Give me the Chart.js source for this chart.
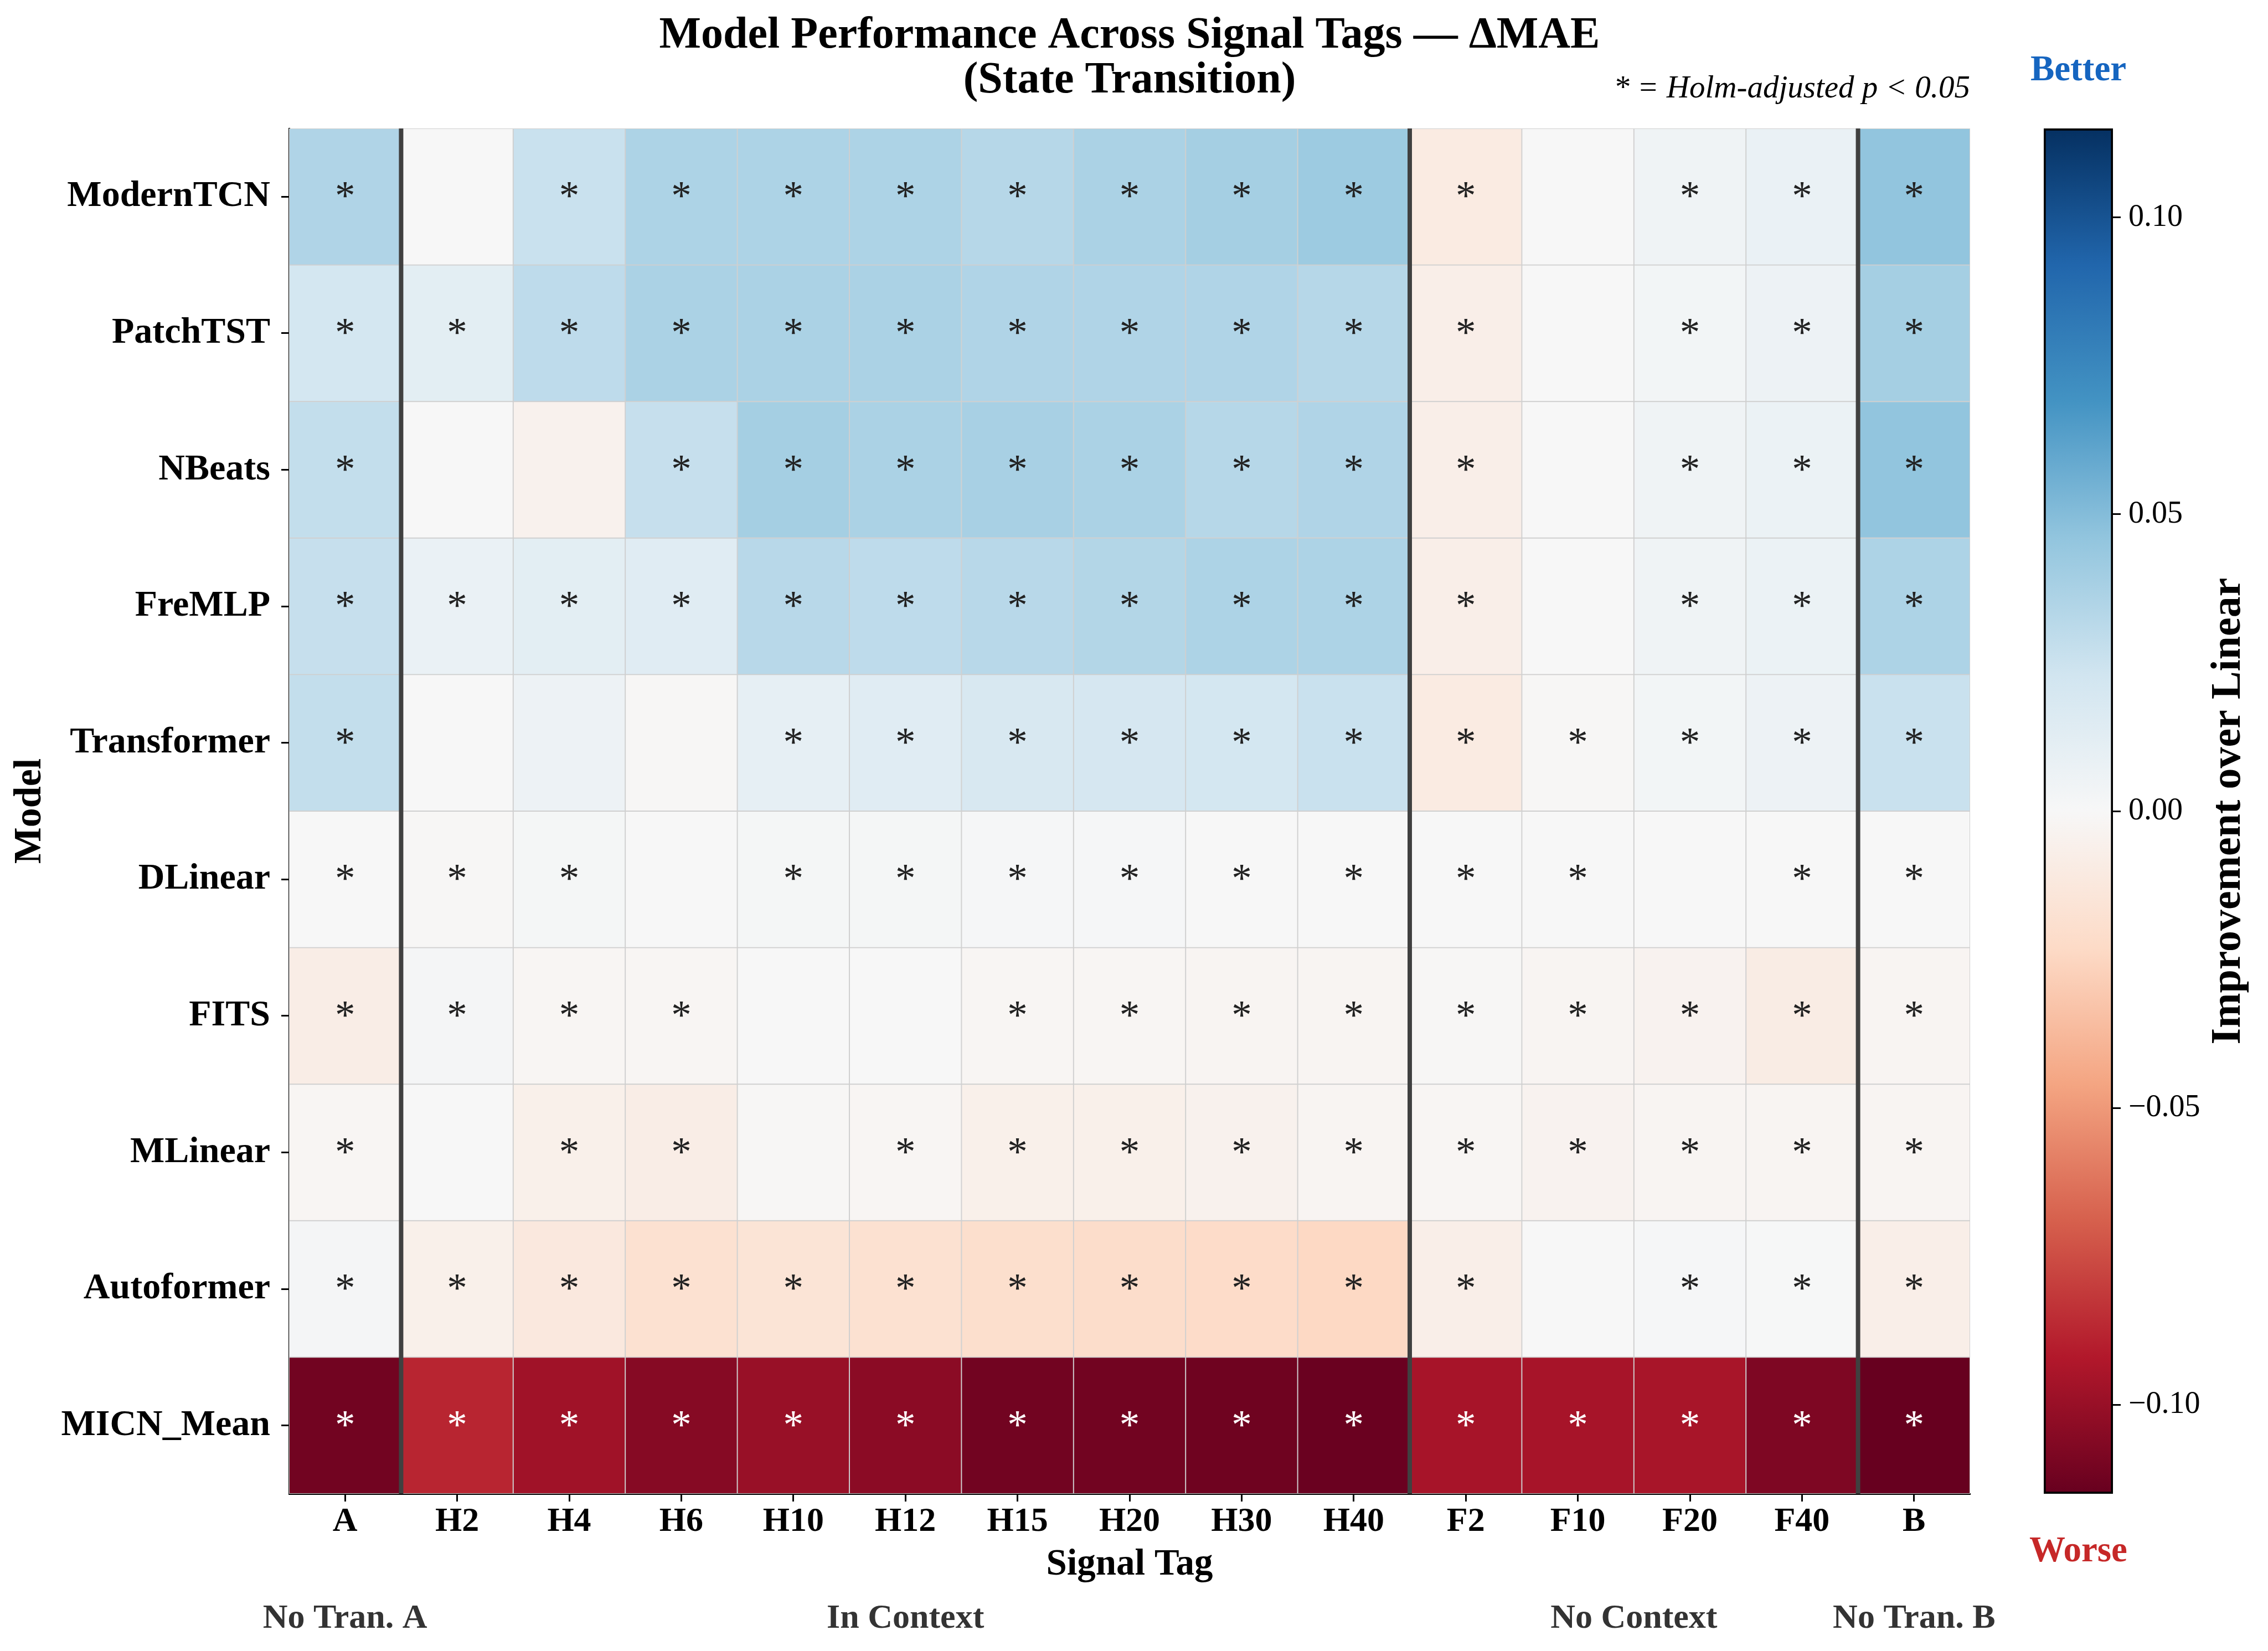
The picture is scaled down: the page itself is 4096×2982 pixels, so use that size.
<!DOCTYPE html>
<html>
<head>
<meta charset="utf-8">
<script src="https://cdn.jsdelivr.net/npm/chart.js@4.4.0/dist/chart.umd.min.js"></script>
<style>
  html, body { margin: 0; padding: 0; background: #fff; }
  #wrap { position: relative; width: 4096px; height: 2982px; }
  #heat { position: absolute; left: 0; top: 0; }
  #cbar { position: absolute; left: 3560px; top: 0; }
</style>
</head>
<body>
<div id="wrap">
  <canvas id="heat" width="4096" height="2982" style="width:4096px;height:2982px"></canvas>
  <canvas id="cbar" width="536" height="2982" style="width:536px;height:2982px"></canvas>
</div>
<script>
// signal tags (columns) and models (rows)
var tags = ['A', 'H2', 'H4', 'H6', 'H10', 'H12', 'H15', 'H20', 'H30', 'H40', 'F2', 'F10', 'F20', 'F40', 'B'];
var models = ['ModernTCN', 'PatchTST', 'NBeats', 'FreMLP', 'Transformer', 'DLinear', 'FITS', 'MLinear', 'Autoformer', 'MICN_Mean'];

// column groups, by first and last tag index
var groupNames = ['No Tran. A', 'In Context', 'No Context', 'No Tran. B'];
var groupSpans = [[0, 0], [1, 9], [10, 13], [14, 14]];

// delta MAE vs Linear, one array per model
var modernTCN   = [0.035, 0.000, 0.026, 0.036, 0.036, 0.036, 0.033, 0.037, 0.039, 0.042, -0.010, 0.000, 0.005, 0.008, 0.046];
var patchTST    = [0.021, 0.012, 0.030, 0.037, 0.037, 0.037, 0.035, 0.035, 0.035, 0.033, -0.007, 0.000, 0.003, 0.006, 0.039];
var nBeats      = [0.028, 0.000, -0.005, 0.027, 0.039, 0.037, 0.038, 0.037, 0.033, 0.035, -0.007, 0.000, 0.005, 0.007, 0.046];
var freMLP      = [0.027, 0.008, 0.012, 0.014, 0.032, 0.030, 0.032, 0.034, 0.036, 0.036, -0.007, 0.000, 0.005, 0.007, 0.036];
var transformer = [0.028, 0.000, 0.006, -0.001, 0.010, 0.014, 0.019, 0.020, 0.021, 0.026, -0.010, -0.001, 0.003, 0.006, 0.026];
var dLinear     = [0.0003, -0.0008, 0.0018, 0.000, 0.0018, 0.0018, 0.0012, 0.001, 0.0003, 0.0003, 0.0003, 0.0003, 0.000, 0.0003, 0.0003];
var fits        = [-0.008, 0.002, -0.002, -0.002, 0.000, 0.000, -0.002, -0.002, -0.0025, -0.0025, -0.001, -0.0025, -0.004, -0.009, -0.0025];
var mLinear     = [-0.002, 0.000, -0.006, -0.008, -0.001, -0.002, -0.006, -0.006, -0.005, -0.0025, -0.002, -0.004, -0.0025, -0.0025, -0.0025];
var autoformer  = [0.002, -0.006, -0.012, -0.018, -0.016, -0.018, -0.020, -0.021, -0.022, -0.024, -0.007, 0.000, 0.0015, 0.0005, -0.007];
var micnMean    = [-0.1115, -0.088, -0.0975, -0.1055, -0.100, -0.104, -0.1115, -0.1115, -0.1125, -0.114, -0.0955, -0.0955, -0.095, -0.108, -0.115];

// Holm-adjusted p < 0.05 (1 = star)
var modernTCNSig   = [1, 0, 1, 1, 1, 1, 1, 1, 1, 1, 1, 0, 1, 1, 1];
var patchTSTSig    = [1, 1, 1, 1, 1, 1, 1, 1, 1, 1, 1, 0, 1, 1, 1];
var nBeatsSig      = [1, 0, 0, 1, 1, 1, 1, 1, 1, 1, 1, 0, 1, 1, 1];
var freMLPSig      = [1, 1, 1, 1, 1, 1, 1, 1, 1, 1, 1, 0, 1, 1, 1];
var transformerSig = [1, 0, 0, 0, 1, 1, 1, 1, 1, 1, 1, 1, 1, 1, 1];
var dLinearSig     = [1, 1, 1, 0, 1, 1, 1, 1, 1, 1, 1, 1, 0, 1, 1];
var fitsSig        = [1, 1, 1, 1, 0, 0, 1, 1, 1, 1, 1, 1, 1, 1, 1];
var mLinearSig     = [1, 0, 1, 1, 0, 1, 1, 1, 1, 1, 1, 1, 1, 1, 1];
var autoformerSig  = [1, 1, 1, 1, 1, 1, 1, 1, 1, 1, 1, 0, 1, 1, 1];
var micnMeanSig    = [1, 1, 1, 1, 1, 1, 1, 1, 1, 1, 1, 1, 1, 1, 1];

// colour bar
var cbTicks = [-0.10, -0.05, 0.00, 0.05, 0.10];
var CB_LIMIT = 0.115;

var rows = [modernTCN, patchTST, nBeats, freMLP, transformer, dLinear, fits, mLinear, autoformer, micnMean];
var sigRows = [modernTCNSig, patchTSTSig, nBeatsSig, freMLPSig, transformerSig, dLinearSig, fitsSig, mLinearSig, autoformerSig, micnMeanSig];

var FONT = "'Liberation Serif', 'Times New Roman', serif";
var RDBU = ['#67001f', '#b2182b', '#d6604d', '#f4a582', '#fddbc7', '#f7f7f7',
            '#d1e5f0', '#92c5de', '#4393c3', '#2166ac', '#053061'];

function hexToRgb(h) {
    return [parseInt(h.substr(1, 2), 16), parseInt(h.substr(3, 2), 16), parseInt(h.substr(5, 2), 16)];
}

function cmap(v) {
    var t = (v + CB_LIMIT) / (2 * CB_LIMIT);
    t = Math.max(0, Math.min(1, t)) * 10;
    var i = Math.min(9, Math.floor(t));
    var f = t - i;
    var a = hexToRgb(RDBU[i]), b = hexToRgb(RDBU[i + 1]);
    var c = a.map(function(ch, k) { return Math.round(ch + (b[k] - ch) * f); });
    return 'rgb(' + c.join(',') + ')';
}

function fmtTick(v) {
    return v.toFixed(2).replace('-', '\u2212');
}

// one floating bar dataset per model row
var datasets = models.map(function(m, i) {
    return {
        label: m,
        data: tags.map(function() { return [i, i + 1]; }),
        backgroundColor: rows[i].map(cmap),
        borderColor: '#cfcfcf',
        borderWidth: 1.3,
        borderSkipped: false,
        grouped: false,
        barPercentage: 1,
        categoryPercentage: 1
    };
});

var heatDecor = {
    id: 'heatDecor',
    afterDatasetsDraw: function(chart) {
        var ctx = chart.ctx, a = chart.chartArea;
        var x = chart.scales.x, y = chart.scales.y;
        ctx.save();
        // group separators
        ctx.strokeStyle = '#404040';
        ctx.lineWidth = 8;
        groupSpans.slice(1).forEach(function(span) {
            var px = (x.getPixelForValue(span[0] - 1) + x.getPixelForValue(span[0])) / 2;
            ctx.beginPath();
            ctx.moveTo(px, a.top);
            ctx.lineTo(px, a.bottom);
            ctx.stroke();
        });
        // significance stars, sized so the glyph is about 27px tall
        ctx.font = '100px ' + FONT;
        var m0 = ctx.measureText('*');
        var h0 = m0.actualBoundingBoxAscent + m0.actualBoundingBoxDescent;
        var size = Math.round(100 * 27 / h0);
        ctx.font = size + 'px ' + FONT;
        ctx.textAlign = 'center';
        ctx.textBaseline = 'alphabetic';
        var m = ctx.measureText('*');
        var shift = (m.actualBoundingBoxAscent - m.actualBoundingBoxDescent) / 2;
        rows.forEach(function(vals, i) {
            var cy = y.getPixelForValue(i + 0.5) - 12;
            vals.forEach(function(v, j) {
                if (!sigRows[i][j]) return;
                ctx.fillStyle = v < -0.06 ? '#ffffff' : '#222222';
                ctx.fillText('*', x.getPixelForValue(j), cy + shift);
            });
        });
        ctx.restore();
    },
    afterDraw: function(chart) {
        var ctx = chart.ctx, a = chart.chartArea;
        var x = chart.scales.x;
        var cx = (a.left + a.right) / 2;
        ctx.save();
        ctx.fillStyle = '#000';
        ctx.textAlign = 'center';
        ctx.textBaseline = 'alphabetic';
        ctx.font = 'bold 80px ' + FONT;
        ctx.fillText('Model Performance Across Signal Tags \u2014 \u0394MAE', cx, 86);
        ctx.fillText('(State Transition)', cx, 167);

        ctx.font = 'italic 57px ' + FONT;
        ctx.textAlign = 'right';
        ctx.fillText('* = Holm-adjusted p < 0.05', a.right, 176);

        ctx.font = 'bold 62px ' + FONT;
        ctx.fillStyle = '#333333';
        ctx.textAlign = 'center';
        groupNames.forEach(function(g, k) {
            var s = groupSpans[k];
            var gx = (x.getPixelForValue(s[0]) + x.getPixelForValue(s[1])) / 2;
            ctx.fillText(g, gx, 2940);
        });
        ctx.restore();
    }
};

new Chart(document.getElementById('heat'), {
    type: 'bar',
    data: { labels: tags, datasets: datasets },
    options: {
        responsive: false,
        animation: false,
        devicePixelRatio: 1,
        layout: { padding: { left: 13, top: 232, right: 538, bottom: 115 } },
        plugins: {
            legend: { display: false },
            tooltip: { enabled: false },
            title: { display: false }
        },
        scales: {
            x: {
                type: 'category',
                offset: true,
                z: 1,
                grid: { offset: false, drawOnChartArea: false, drawTicks: true, tickLength: 14, tickWidth: 3, tickColor: '#000' },
                border: { display: true, color: '#000', width: 3 },
                ticks: {
                    font: { family: FONT, size: 62, weight: 'bold' },
                    color: '#000', padding: 0, maxRotation: 0, autoSkip: false
                },
                title: {
                    display: true, text: 'Signal Tag', color: '#000', padding: 0,
                    font: { family: FONT, size: 67, weight: 'bold' }
                },
                afterFit: function(s) { s.height = 169; }
            },
            y: {
                type: 'linear',
                min: 0,
                max: 10,
                reverse: true,
                z: 1,
                afterBuildTicks: function(s) {
                    s.ticks = models.map(function(m, i) { return { value: i + 0.5 }; });
                },
                ticks: {
                    callback: function(v) { return models[Math.floor(v)]; },
                    font: { family: FONT, size: 66, weight: 'bold' },
                    color: '#000', padding: 20
                },
                grid: { drawOnChartArea: false, tickLength: 14, tickWidth: 3, tickColor: '#000' },
                border: { display: true, color: '#000', width: 3 },
                title: {
                    display: true, text: 'Model', color: '#000', padding: 0,
                    font: { family: FONT, size: 70, weight: 'bold' }
                },
                afterFit: function(s) { s.width = 509; }
            }
        }
    },
    plugins: [heatDecor]
});

// colour bar as its own chart
var cbarDecor = {
    id: 'cbarDecor',
    afterDraw: function(chart) {
        var ctx = chart.ctx, a = chart.chartArea;
        var cx = (a.left + a.right) / 2;
        ctx.save();
        ctx.textAlign = 'center';
        ctx.textBaseline = 'alphabetic';
        ctx.font = 'bold 65px ' + FONT;
        ctx.fillStyle = '#1565c0';
        ctx.fillText('Better', cx, 145);
        ctx.fillStyle = '#c62828';
        ctx.fillText('Worse', cx, 2820);

        ctx.translate(465, (a.top + a.bottom) / 2);
        ctx.rotate(-Math.PI / 2);
        ctx.fillStyle = '#000';
        ctx.textBaseline = 'middle';
        ctx.font = 'bold 76px ' + FONT;
        ctx.fillText('Improvement over Linear', 0, 0);
        ctx.restore();
    }
};

new Chart(document.getElementById('cbar'), {
    type: 'bar',
    data: {
        labels: ['\u0394MAE'],
        datasets: [{
            data: [[-CB_LIMIT, CB_LIMIT]],
            backgroundColor: function(c) {
                var a = c.chart.chartArea;
                if (!a) return '#f7f7f7';
                var g = c.chart.ctx.createLinearGradient(0, a.bottom, 0, a.top);
                RDBU.forEach(function(col, k) { g.addColorStop(k / 10, col); });
                return g;
            },
            borderColor: '#000',
            borderWidth: 4,
            borderSkipped: false,
            barPercentage: 1,
            categoryPercentage: 1
        }]
    },
    options: {
        responsive: false,
        animation: false,
        devicePixelRatio: 1,
        layout: { padding: { left: 131, top: 232, right: 0, bottom: 284 } },
        plugins: { legend: { display: false }, tooltip: { enabled: false } },
        scales: {
            x: { display: false },
            y: {
                position: 'right',
                min: -CB_LIMIT,
                max: CB_LIMIT,
                afterBuildTicks: function(s) {
                    s.ticks = cbTicks.map(function(v) { return { value: v }; });
                },
                ticks: {
                    callback: function(v) { return fmtTick(v); },
                    font: { family: FONT, size: 56 },
                    color: '#000', padding: 14
                },
                grid: { drawOnChartArea: false, tickLength: 14, tickWidth: 3, tickColor: '#000' },
                border: { display: false },
                afterFit: function(s) { s.width = 280; }
            }
        }
    },
    plugins: [cbarDecor]
});
</script>
</body>
</html>
